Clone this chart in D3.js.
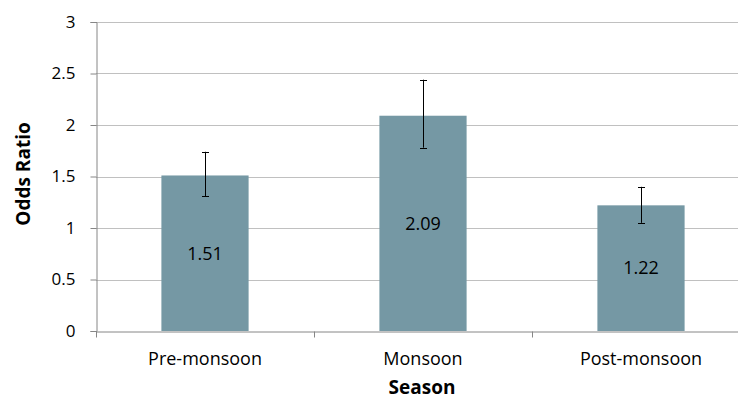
<!DOCTYPE html>
<html>
<head>
<meta charset="utf-8">
<script src="https://cdn.jsdelivr.net/npm/d3@7"></script>
<style>
  body { margin: 0; background: #fff; }
  svg text { font-family: "Open Sans", "Noto Sans", sans-serif; fill: #000; }
</style>
</head>
<body>
<div id="chart"></div>
<script>
// data
var seasons = ["Pre-monsoon", "Monsoon", "Post-monsoon"];
var oddsRatio = [1.51, 2.09, 1.22];
var lowerCI = [1.31, 1.78, 1.05];
var upperCI = [1.74, 2.44, 1.40];
var yTicks = [0, 0.5, 1, 1.5, 2, 2.5, 3];

var margin = {top: 22, right: -12, bottom: 70, left: 96},
    width = 738 - margin.left - margin.right,
    height = 401 - margin.top - margin.bottom;

var svg = d3.select("#chart")
  .append("svg")
    .attr("width", 738)
    .attr("height", 401)
  .append("g")
    .attr("transform", "translate(" + margin.left + "," + margin.top + ")");

var x = d3.scaleBand()
  .domain(seasons)
  .range([0, width])
  .paddingInner(0.6)
  .paddingOuter(0.3);

// band for the axis ticks (no padding)
var xAxisBand = d3.scaleBand().domain(seasons).range([0, width]);

var y = d3.scaleLinear()
  .domain([0, 3])
  .range([height, 0]);

// gridlines
svg.append("g")
  .selectAll("line")
  .data(yTicks.slice(1))
  .enter()
  .append("line")
    .attr("x1", 0)
    .attr("x2", width)
    .attr("y1", function(d) { return Math.round(y(d)) + 0.5; })
    .attr("y2", function(d) { return Math.round(y(d)) + 0.5; })
    .attr("stroke", "#c0c0c0")
    .attr("stroke-width", 1);

// y axis
var yAxis = svg.append("g")
  .attr("transform", "translate(0.5,0)")
  .call(d3.axisLeft(y).tickValues(yTicks).tickSize(6).tickPadding(15)
    .tickFormat(function(d) { return d; }));
yAxis.select(".domain").attr("stroke", "#868686");
yAxis.selectAll(".tick line").attr("stroke", "#868686");
yAxis.selectAll(".tick text").style("font-size", "17px");

// bars
svg.selectAll("rect.bar")
  .data(seasons)
  .enter()
  .append("rect")
    .attr("class", "bar")
    .attr("x", function(d) { return x(d); })
    .attr("width", x.bandwidth())
    .attr("y", function(d, i) { return y(oddsRatio[i]); })
    .attr("height", function(d, i) { return height - y(oddsRatio[i]); })
    .attr("fill", "#7598a4");

// x axis
var xAxis = svg.append("g")
  .attr("transform", "translate(0," + (Math.round(height) + 0.5) + ")")
  .call(d3.axisBottom(xAxisBand).tickSize(0).tickPadding(21));
xAxis.select(".domain").attr("stroke", "#868686");
xAxis.selectAll(".tick text").style("font-size", "18px");
// tick marks between categories
xAxis.selectAll("line.sep")
  .data([0].concat(seasons.map(function(d) { return xAxisBand(d) + xAxisBand.bandwidth(); })))
  .enter()
  .append("line")
    .attr("x1", function(d) { return Math.round(d) + 0.5; })
    .attr("x2", function(d) { return Math.round(d) + 0.5; })
    .attr("y1", 0)
    .attr("y2", 6)
    .attr("stroke", "#868686");

// error bars
var err = svg.append("g");
seasons.forEach(function(s, i) {
  var cx = Math.round(x(s) + x.bandwidth() / 2) + 0.5;
  err.append("line")
    .attr("x1", cx).attr("x2", cx)
    .attr("y1", y(upperCI[i])).attr("y2", y(lowerCI[i]))
    .attr("stroke", "#000").attr("stroke-width", 1);
  [upperCI[i], lowerCI[i]].forEach(function(v) {
    err.append("line")
      .attr("x1", cx - 3.5).attr("x2", cx + 3.5)
      .attr("y1", Math.round(y(v)) + 0.5).attr("y2", Math.round(y(v)) + 0.5)
      .attr("stroke", "#000").attr("stroke-width", 1);
  });
});

// value labels in the middle of the bars
svg.selectAll("text.val")
  .data(seasons)
  .enter()
  .append("text")
    .attr("class", "val")
    .attr("x", function(d) { return x(d) + x.bandwidth() / 2; })
    .attr("y", function(d, i) { return (y(oddsRatio[i]) + height) / 2; })
    .attr("dy", "0.35em")
    .attr("text-anchor", "middle")
    .style("font-size", "18px")
    .text(function(d, i) { return oddsRatio[i].toFixed(2); });

// axis titles
svg.append("text")
  .attr("transform", "translate(" + (30 - margin.left) + "," + (174 - margin.top) + ") rotate(-90)")
  .attr("text-anchor", "middle")
  .style("font-size", "19px")
  .style("font-weight", "bold")
  .text("Odds Ratio");

svg.append("text")
  .attr("x", 422 - margin.left)
  .attr("y", 394 - margin.top)
  .attr("text-anchor", "middle")
  .style("font-size", "19px")
  .style("font-weight", "bold")
  .text("Season");
</script>
</body>
</html>
